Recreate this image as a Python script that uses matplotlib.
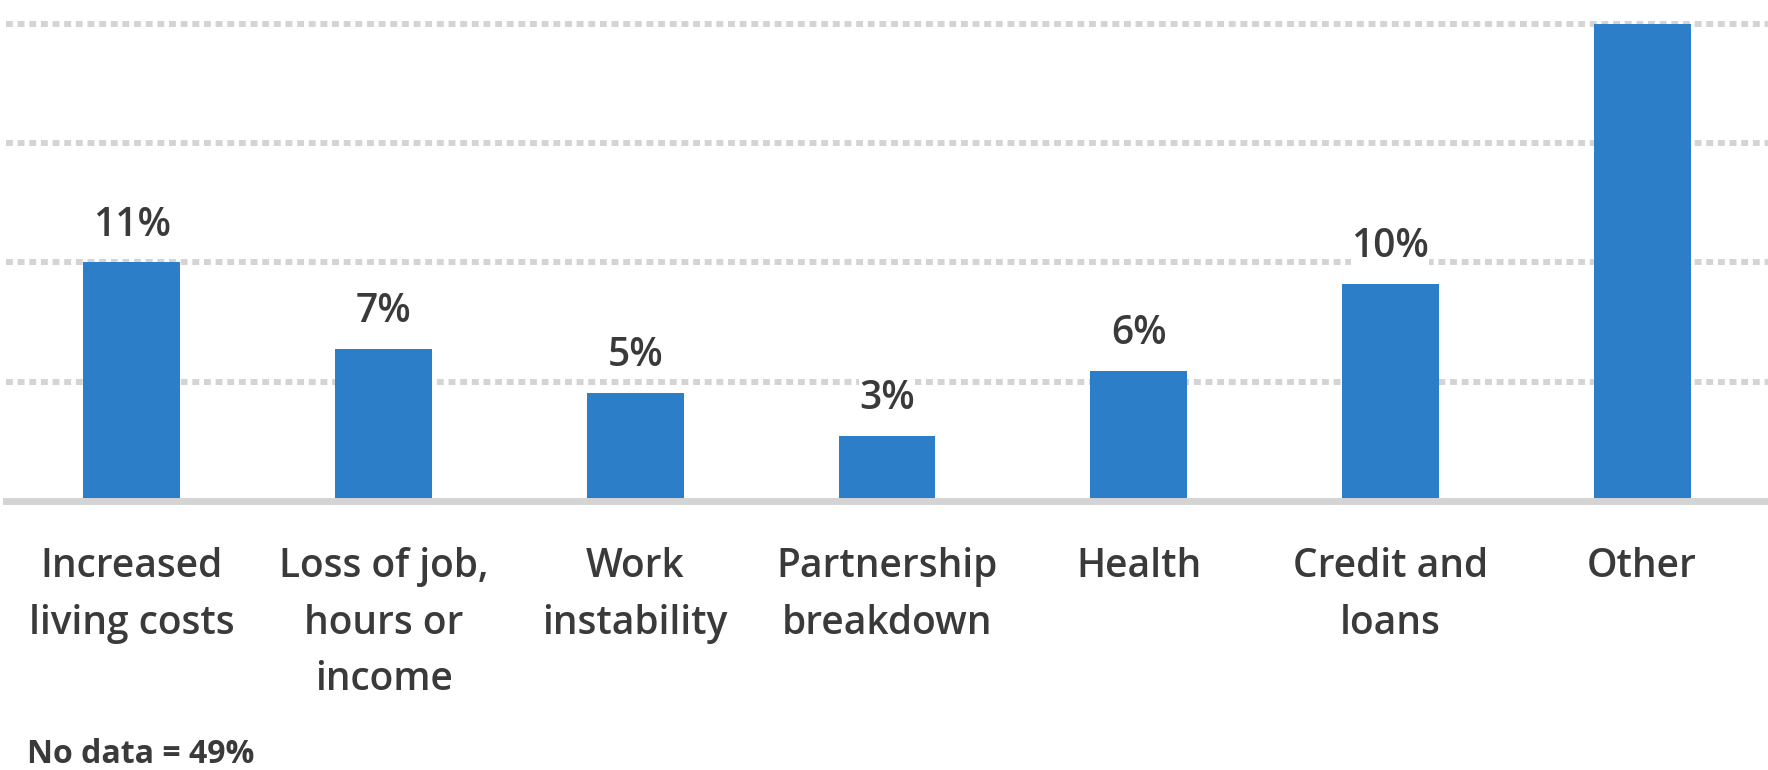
import matplotlib.pyplot as plt

categories = ["Increased\nliving costs", "Loss of job,\nhours or\nincome", "Work\ninstability",
              "Partnership\nbreakdown", "Health", "Credit and\nloans", "Other"]
values = [11, 7, 5, 3, 6, 10, 22]
labels = ["11%", "7%", "5%", "3%", "6%", "10%", "22%"]
note = "No data = 49%"

bar_color = "#2c7ec9"
text_color = "#3a3a3a"
grid_color = "#d4d4d4"

plt.rcParams['font.family'] = ['Open Sans', 'DejaVu Sans']

fig = plt.figure(figsize=(17.68, 7.70), dpi=100)
ax = fig.add_axes([6 / 1768, 1 - 501 / 770, 1 - 6 / 1768, 501 / 770])

x = range(len(values))
ax.bar(x, values, width=0.385, color=bar_color, zorder=2)

ax.set_xlim(-0.5, 6.5)
ax.set_ylim(0, 23.09)

# dotted horizontal gridlines, no tick labels
ax.set_yticks([5.5, 11, 16.5, 22])
ax.yaxis.grid(True, color=grid_color, linewidth=4.3, linestyle=(0, (1.15, 0.8)),
              dash_capstyle='butt', zorder=0)
ax.tick_params(left=False, bottom=False, labelleft=False, labelbottom=False)
for s in ax.spines.values():
    s.set_visible(False)

# baseline
ax.axhline(0, color=grid_color, linewidth=5, zorder=3, clip_on=False)

# value labels above the bars
for i, (v, lab) in enumerate(zip(values, labels)):
    ax.annotate(lab, (i, v), xytext=(0, 12), textcoords='offset points',
                ha='center', va='bottom', fontsize=28, fontweight='semibold',
                color=text_color,
                bbox=dict(facecolor='white', edgecolor='none', pad=0),
                zorder=4, annotation_clip=False)

# category labels below the baseline
for i, cat in enumerate(categories):
    ax.annotate(cat, (i, 0), xytext=(0, -33), textcoords='offset points',
                ha='center', va='top', fontsize=28, fontweight='semibold',
                color=text_color, linespacing=1.56, annotation_clip=False)

fig.text(27 / 1768, 1 - 763 / 770, note, ha='left', va='baseline',
         fontsize=23, fontweight='bold', color=text_color)

fig.savefig("out.png", dpi=100)
